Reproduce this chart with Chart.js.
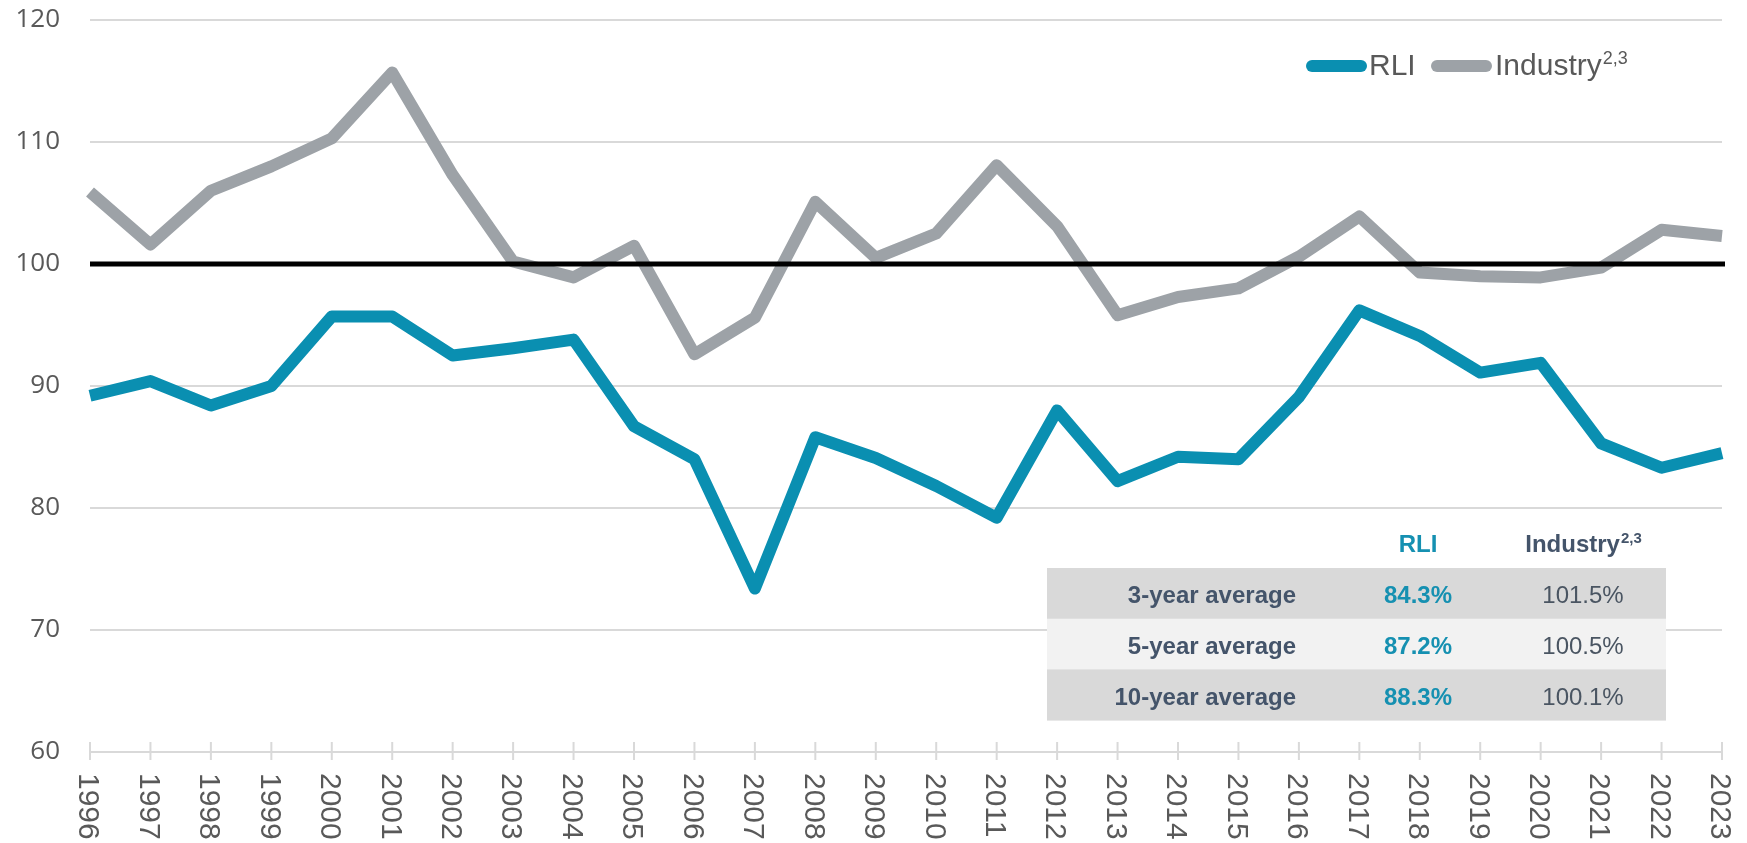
<!DOCTYPE html>
<html><head><meta charset="utf-8">
<script src="https://cdn.jsdelivr.net/npm/chart.js@4.4.1/dist/chart.umd.min.js"></script>
<style>html,body{margin:0;padding:0;background:#fff;overflow:hidden;} canvas{display:block;}</style>
</head><body>
<canvas id="c" width="1747" height="843"></canvas>
<script>
// ---- data ----
const years = ['1996','1997','1998','1999','2000','2001','2002','2003','2004','2005','2006','2007','2008','2009','2010','2011','2012','2013','2014','2015','2016','2017','2018','2019','2020','2021','2022','2023'];
const rli = [89.2,90.4,88.4,90.0,95.7,95.7,92.5,93.1,93.8,86.7,84.0,73.4,85.8,84.1,81.8,79.2,88.0,82.2,84.2,84.0,89.1,96.2,94.1,91.1,91.9,85.3,83.3,84.5];
const industry = [105.9,101.6,106.0,108.0,110.3,115.7,107.3,100.2,98.9,101.5,92.6,95.6,105.1,100.5,102.5,108.1,103.1,95.8,97.3,98.0,100.6,103.9,99.3,99.0,98.9,99.7,102.8,102.3];
const breakeven = 100;
const yMin = 60, yMax = 120, yStep = 10;
const seriesNames = ['RLI', 'Industry'];
const industryNote = '2,3';
const avgLabels = ['3-year average', '5-year average', '10-year average'];
const rliAvg = ['84.3%', '87.2%', '88.3%'];
const industryAvg = ['101.5%', '100.5%', '100.1%'];

// ---- styles ----
const TEAL = '#0a8fb1';
const GRAY = '#9da2a7';
const TEXT = '#595959';
const SLATE = '#44546a';
const TEAL_TXT = '#1590b1';

const overlay = {
  id: 'overlay',
  afterDatasetsDraw(chart) {
    const {ctx, chartArea, scales: {y}} = chart;
    const yp = y.getPixelForValue(breakeven);
    ctx.save();
    ctx.strokeStyle = '#000';
    ctx.lineWidth = 5;
    ctx.beginPath();
    ctx.moveTo(chartArea.left, yp);
    ctx.lineTo(chartArea.right + 3, yp);
    ctx.stroke();
    ctx.restore();
  },
  afterDraw(chart) {
    const {ctx, chartArea, scales: {x, y}} = chart;
    const axisY = y.getPixelForValue(yMin);
    ctx.save();
    // tick marks
    ctx.strokeStyle = '#d9d9d9';
    ctx.lineWidth = 2;
    years.forEach((yr, i) => {
      const px = x.getPixelForTick(i);
      ctx.beginPath();
      ctx.moveTo(px, axisY - 10);
      ctx.lineTo(px, axisY + 8);
      ctx.stroke();
    });
    // rotated year labels (reading top to bottom)
    ctx.fillStyle = TEXT;
    ctx.font = '30px "Liberation Sans", Arial, sans-serif';
    ctx.textAlign = 'left';
    ctx.textBaseline = 'alphabetic';
    years.forEach((yr, i) => {
      const px = x.getPixelForTick(i);
      ctx.save();
      ctx.translate(px, axisY + 21);
      ctx.rotate(Math.PI / 2);
      ctx.fillText(yr, 0, 10.7);
      ctx.restore();
    });

    // legend
    const legY = 66;
    ctx.lineCap = 'round';
    ctx.lineWidth = 12;
    ctx.strokeStyle = TEAL;
    ctx.beginPath(); ctx.moveTo(1312, legY); ctx.lineTo(1361, legY); ctx.stroke();
    ctx.strokeStyle = GRAY;
    ctx.beginPath(); ctx.moveTo(1437, legY); ctx.lineTo(1486, legY); ctx.stroke();
    ctx.fillStyle = TEXT;
    ctx.font = '30px "Liberation Sans", Arial, sans-serif';
    ctx.fillText(seriesNames[0], 1369, 75);
    ctx.fillText(seriesNames[1], 1495, 75);
    const iw = ctx.measureText(seriesNames[1]).width;
    ctx.font = '18px "Liberation Sans", Arial, sans-serif';
    ctx.fillText(industryNote, 1495 + iw + 1, 64);

    // averages table
    const tx0 = 1047, tx1 = 1666, top = 568, rh = 50.7;
    const bg = ['#d9d9d9', '#f2f2f2', '#d9d9d9'];
    const labelRight = 1296, rliC = 1418, indC = 1583;
    // header
    ctx.font = 'bold 24px "Liberation Sans", Arial, sans-serif';
    ctx.textAlign = 'center';
    ctx.fillStyle = TEAL_TXT;
    ctx.fillText(seriesNames[0], rliC, 552);
    ctx.textAlign = 'left';
    ctx.fillStyle = SLATE;
    const hw = ctx.measureText(seriesNames[1]).width;
    ctx.font = 'bold 15px "Liberation Sans", Arial, sans-serif';
    const sw = ctx.measureText(industryNote).width;
    const hx = indC - (hw + sw) / 2;
    ctx.font = 'bold 24px "Liberation Sans", Arial, sans-serif';
    ctx.fillText(seriesNames[1], hx, 552);
    ctx.font = 'bold 15px "Liberation Sans", Arial, sans-serif';
    ctx.fillText(industryNote, hx + hw + 1, 543);

    avgLabels.forEach((lab, i) => {
      const ry = top + i * rh;
      ctx.fillStyle = bg[i];
      ctx.fillRect(tx0, ry, tx1 - tx0, rh + 0.5);
      const base = ry + rh / 2 + 10;
      ctx.font = 'bold 24px "Liberation Sans", Arial, sans-serif';
      ctx.fillStyle = SLATE;
      ctx.textAlign = 'right';
      ctx.fillText(lab, labelRight, base);
      ctx.textAlign = 'center';
      ctx.fillStyle = TEAL_TXT;
      ctx.fillText(rliAvg[i], rliC, base);
      ctx.font = '24px "Liberation Sans", Arial, sans-serif';
      ctx.fillStyle = '#4a5562';
      ctx.fillText(industryAvg[i], indC, base);
    });
    ctx.restore();
  }
};

new Chart(document.getElementById('c'), {
  type: 'line',
  data: {
    labels: years,
    datasets: [
      { label: seriesNames[0], data: rli, borderColor: TEAL, backgroundColor: TEAL, borderWidth: 12,
        pointRadius: 0, tension: 0, borderJoinStyle: 'round', borderCapStyle: 'butt', fill: false },
      { label: seriesNames[1], data: industry, borderColor: GRAY, backgroundColor: GRAY, borderWidth: 12,
        pointRadius: 0, tension: 0, borderJoinStyle: 'round', borderCapStyle: 'butt', fill: false }
    ]
  },
  options: {
    responsive: false,
    animation: false,
    devicePixelRatio: 1,
    layout: { padding: { left: 0, right: 25, top: 20, bottom: 0 } },
    plugins: { legend: { display: false }, tooltip: { enabled: false } },
    scales: {
      x: {
        offset: false,
        grid: { display: false },
        border: { display: false },
        ticks: { display: false },
        afterFit(scale) { scale.height = 91; scale.paddingLeft = 0; scale.paddingRight = 0; }
      },
      y: {
        min: yMin, max: yMax,
        grid: { color: '#d9d9d9', lineWidth: 2, drawTicks: false },
        border: { display: false },
        ticks: { stepSize: yStep, padding: 30, color: TEXT,
                 font: { family: '"Open Sans", sans-serif', size: 26 } },
        afterFit(scale) { scale.width = 90; scale.paddingTop = 0; scale.paddingBottom = 0; }
      }
    }
  },
  plugins: [overlay]
});
</script>
</body></html>
